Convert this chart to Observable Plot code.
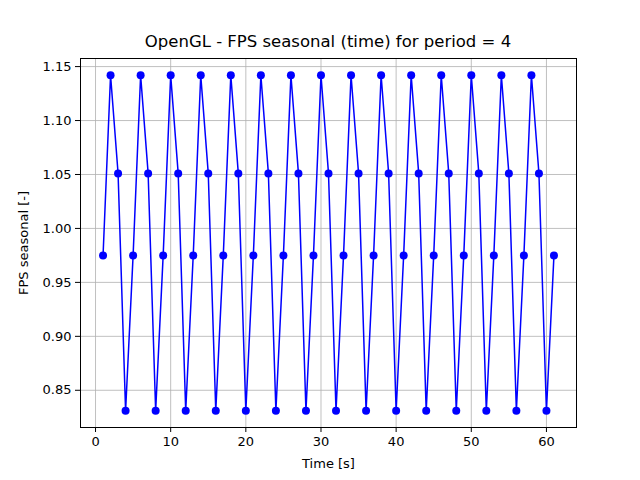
<!DOCTYPE html>
<html>
<head>
<meta charset="utf-8">
<script src="https://cdn.jsdelivr.net/npm/d3@7"></script>
<script src="https://cdn.jsdelivr.net/npm/@observablehq/plot@0.6"></script>
<style>
  body { margin: 0; background: #fff; }
  #wrap { position: relative; width: 640px; height: 480px; font-family: "DejaVu Sans", sans-serif; }
  #title { position: absolute; top: 32px; left: 80px; width: 496px; text-align: center; font-size: 16.5px; }
</style>
</head>
<body>
<div id="wrap"><div id="title">OpenGL - FPS seasonal (time) for period = 4</div></div>
<script>
// seconds 1..61
const time = d3.range(1, 62);
const fps = [
  0.975, 1.142, 1.051, 0.831, 0.975, 1.142, 1.051, 0.831, 0.975, 1.142,
  1.051, 0.831, 0.975, 1.142, 1.051, 0.831, 0.975, 1.142, 1.051, 0.831,
  0.975, 1.142, 1.051, 0.831, 0.975, 1.142, 1.051, 0.831, 0.975, 1.142,
  1.051, 0.831, 0.975, 1.142, 1.051, 0.831, 0.975, 1.142, 1.051, 0.831,
  0.975, 1.142, 1.051, 0.831, 0.975, 1.142, 1.051, 0.831, 0.975, 1.142,
  1.051, 0.831, 0.975, 1.142, 1.051, 0.831, 0.975, 1.142, 1.051, 0.831,
  0.975
];
const xTicks = [0, 10, 20, 30, 40, 50, 60];
const yTicks = [0.85, 0.90, 0.95, 1.00, 1.05, 1.10, 1.15];

const data = time.map((t, i) => ({ t, v: fps[i] }));

const chart = Plot.plot({
  width: 640,
  height: 480,
  marginLeft: 80,
  marginRight: 64,
  marginTop: 58,
  marginBottom: 53,
  style: { fontFamily: "DejaVu Sans, sans-serif", fontSize: "13px", color: "#000" },
  x: { domain: [-2, 64], ticks: xTicks, tickSize: 5, tickPadding: 4, label: "Time [s]", labelAnchor: "center", labelArrow: "none", labelOffset: 40 },
  y: { domain: [0.8155, 1.1575], ticks: yTicks, tickSize: 5, tickFormat: d3.format(".2f"), label: "FPS seasonal [-]", labelAnchor: "center", labelArrow: "none", labelOffset: 62 },
  marks: [
    Plot.gridX(xTicks, { stroke: "#b0b0b0", strokeOpacity: 1, strokeWidth: 0.8 }),
    Plot.gridY(yTicks, { stroke: "#b0b0b0", strokeOpacity: 1, strokeWidth: 0.8 }),
    Plot.line(data, { x: "t", y: "v", stroke: "#0000ff", strokeWidth: 1.5 }),
    Plot.dot(data, { x: "t", y: "v", fill: "#0000ff", r: 4 }),
    Plot.frame({ stroke: "#000" })
  ]
});
document.getElementById("wrap").appendChild(chart);
</script>
</body>
</html>
